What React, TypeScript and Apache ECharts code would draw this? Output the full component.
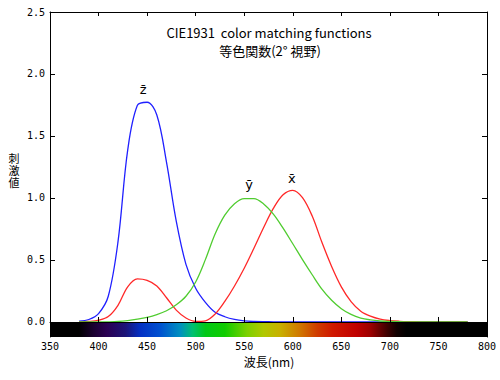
import React, { useEffect, useRef } from "react";
import * as echarts from "echarts";

const wavelengths = [380, 390, 400, 410, 420, 430, 440, 450, 460, 470, 480, 490, 500, 510, 520, 530, 540, 550, 560, 570, 580, 590, 600, 610, 620, 630, 640, 650, 660, 670, 680, 690, 700, 710, 720, 730, 740, 750, 760, 770, 780];
const xBar = [0.0014, 0.0042, 0.0143, 0.0435, 0.1344, 0.2839, 0.3483, 0.3362, 0.2908, 0.1954, 0.0956, 0.0320, 0.0049, 0.0093, 0.0633, 0.1655, 0.2904, 0.4334, 0.5945, 0.7621, 0.9163, 1.0263, 1.0622, 1.0026, 0.8544, 0.6424, 0.4479, 0.2835, 0.1649, 0.0874, 0.0468, 0.0227, 0.0114, 0.0058, 0.0029, 0.0014, 0.0007, 0.0003, 0.0002, 0.0001, 0.0000];
const yBar = [0.0000, 0.0001, 0.0004, 0.0012, 0.0040, 0.0116, 0.0230, 0.0380, 0.0600, 0.0910, 0.1390, 0.2080, 0.3230, 0.5030, 0.7100, 0.8620, 0.9540, 0.9950, 0.9950, 0.9520, 0.8700, 0.7570, 0.6310, 0.5030, 0.3810, 0.2650, 0.1750, 0.1070, 0.0610, 0.0320, 0.0170, 0.0082, 0.0041, 0.0021, 0.0010, 0.0005, 0.0002, 0.0001, 0.0001, 0.0000, 0.0000];
const zBar = [0.0065, 0.0201, 0.0679, 0.2074, 0.6456, 1.3856, 1.7471, 1.7721, 1.6692, 1.2876, 0.8130, 0.4652, 0.2720, 0.1582, 0.0783, 0.0422, 0.0203, 0.0088, 0.0039, 0.0021, 0.0017, 0.0011, 0.0008, 0.0003, 0.0002, 0.0001, 0.0000, 0, 0, 0, 0, 0, 0, 0, 0, 0, 0, 0, 0, 0, 0];

const yTicks = [0, 0.5, 1.0, 1.5, 2.0, 2.5];
const xMin = 350;
const xMax = 800;
const yMin = -0.121;
const yMax = 2.5;

const titleLine1 = "CIE1931  color matching functions";
const titleLine2 = "等色関数(2° 視野)";
const yName = ["刺", "激", "値"];
const xName = "波長(nm)";

// spectrum colour stops: [wavelength nm, colour]
const spectrumStops: [number, string][] = [
  [350, "#000000"], [380, "#000000"], [395, "#1a0030"], [408, "#2a0052"], [428, "#1c1478"],
  [443, "#0430c4"], [463, "#0050d0"], [484, "#0090c0"], [497, "#00c070"], [510, "#00c818"],
  [530, "#10cc00"], [553, "#7cd000"], [570, "#b0c800"], [587, "#c8b000"], [607, "#d07800"],
  [625, "#d03c00"], [641, "#d01800"], [666, "#c00000"], [680, "#9c0000"], [697, "#400000"],
  [707, "#120000"], [717, "#000000"], [800, "#000000"],
];

const curveLabels = [
  { name: "z\u0304", wl: 446, val: 1.78, dy: -11 },
  { name: "y\u0304", wl: 555, val: 1.0, dy: -13 },
  { name: "x\u0304", wl: 599, val: 1.062, dy: -11 },
];

const tickFont = "'DejaVu Sans Mono', monospace";
const jpFont = "'Noto Sans CJK JP', 'Noto Sans', sans-serif";

const GRID_TOP = 12;
const GRID_BOTTOM = 43;
const CHART_H = 380;

export default function App() {
  const ref = useRef<HTMLDivElement>(null);
  useEffect(() => {
    if (!ref.current) return;
    const chart = echarts.init(ref.current, undefined, { renderer: "svg" });
    const pair = (arr: number[]) => wavelengths.map((w, i) => [w, arr[i]]);
    const grad = new echarts.graphic.LinearGradient(
      0, 0, 1, 0,
      spectrumStops.map(([nm, c]) => ({ offset: (nm - xMin) / (xMax - xMin), color: c }))
    );
    const gridH = CHART_H - GRID_TOP - GRID_BOTTOM;
    const zeroOffset = -((0 - yMin) / (yMax - yMin)) * gridH;
    const mkLabel = (l: typeof curveLabels[number]) => ({
      markPoint: {
        symbol: "circle",
        symbolSize: 0,
        silent: true,
        data: [{ coord: [l.wl, l.val] }],
        label: {
          show: true,
          formatter: l.name,
          position: "top",
          distance: 0,
          offset: [0, l.dy + 6],
          color: "#000",
          fontSize: 13,
          fontFamily: "'DejaVu Sans', sans-serif",
        },
      },
    });
    const lineBase = {
      type: "line" as const,
      showSymbol: false,
      smooth: 0.35,
      z: 3,
      xAxisIndex: 0,
      yAxisIndex: 0,
    };
    const txt = (text: string, x: number, y: number, size: number, lh?: number) => ({
      type: "text",
      x,
      y,
      style: {
        text,
        fontSize: size,
        lineHeight: lh ?? size + 2,
        fill: "#000",
        fontFamily: jpFont,
        align: "center",
        verticalAlign: "middle",
      },
    });
    chart.setOption({
      animation: false,
      backgroundColor: "#ffffff",
      graphic: [
        txt(titleLine1, 269, 32, 13),
        txt(titleLine2, 270, 50, 13),
        txt(yName.join("\n"), 14, 170, 11, 12),
        txt(xName, 269, 361, 12),
      ],
      grid: { left: 50, right: 13, top: GRID_TOP, bottom: GRID_BOTTOM, containLabel: false },
      xAxis: [
        {
          type: "value",
          min: xMin,
          max: xMax,
          interval: 50,
          position: "bottom",
          offset: zeroOffset,
          axisLine: { show: true, onZero: false, lineStyle: { color: "#000", width: 1 } },
          axisTick: { show: true, inside: true, length: 5, lineStyle: { color: "#000" } },
          axisLabel: { show: true, margin: 20, fontSize: 10, color: "#000", fontFamily: tickFont },
          splitLine: { show: false },
          z: 5,
        },
        {
          type: "value",
          min: xMin,
          max: xMax,
          interval: 50,
          position: "top",
          axisLine: { show: true, onZero: false, lineStyle: { color: "#000", width: 1 } },
          axisTick: { show: true, inside: true, length: 4, lineStyle: { color: "#000" } },
          axisLabel: { show: false },
          splitLine: { show: false },
        },
      ],
      yAxis: [
        {
          type: "value",
          min: yMin,
          max: yMax,
          position: "left",
          axisLine: { show: true, onZero: false, lineStyle: { color: "#000", width: 1 } },
          axisTick: { show: true, inside: true, length: 5, customValues: yTicks, lineStyle: { color: "#000" } },
          axisLabel: {
            show: true,
            margin: 5,
            customValues: yTicks,
            formatter: (v: number) => v.toFixed(1),
            fontSize: 10,
            color: "#000",
            fontFamily: tickFont,
          },
          splitLine: { show: false },
        },
        {
          type: "value",
          min: yMin,
          max: yMax,
          position: "right",
          axisLine: { show: true, onZero: false, lineStyle: { color: "#000", width: 1 } },
          axisTick: { show: true, inside: true, length: 5, customValues: yTicks, lineStyle: { color: "#000" } },
          axisLabel: { show: false },
          splitLine: { show: false },
        },
      ],
      series: [
        {
          type: "line",
          name: "spectrum",
          data: [],
          xAxisIndex: 0,
          yAxisIndex: 0,
          silent: true,
          z: 1,
          markArea: {
            silent: true,
            itemStyle: { color: grad, borderWidth: 0 },
            data: [[{ coord: [xMin, yMin] }, { coord: [xMax, 0] }]],
          },
        },
        { ...lineBase, name: "z", data: pair(zBar), lineStyle: { color: "#2020ff", width: 1.3 }, ...mkLabel(curveLabels[0]) },
        { ...lineBase, name: "x", data: pair(xBar), lineStyle: { color: "#ff2828", width: 1.3 }, ...mkLabel(curveLabels[2]) },
        { ...lineBase, name: "y", data: pair(yBar), lineStyle: { color: "#50cc30", width: 1.3 }, ...mkLabel(curveLabels[1]) },
      ],
    });
    return () => chart.dispose();
  }, []);
  return (
    <div
      ref={ref}
      style={{ position: "fixed", left: 0, top: 0, width: 500, height: 380, background: "#fff" }}
    />
  );
}
